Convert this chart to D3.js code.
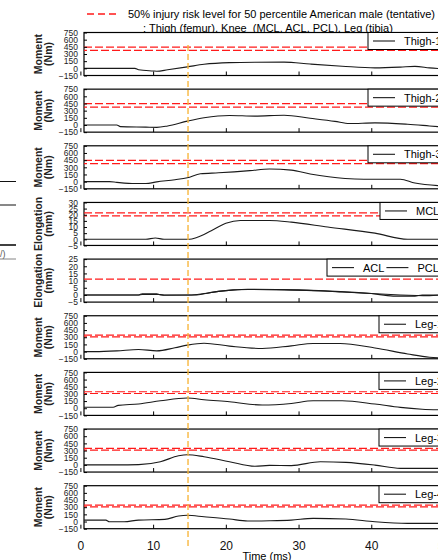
<!DOCTYPE html>
<html><head><meta charset="utf-8">
<script src="https://cdn.jsdelivr.net/npm/d3@7"></script>
<style>body{margin:0;background:#fff}svg{display:block;font-family:"Liberation Sans",Arial,sans-serif}</style>
</head><body><svg width="438" height="560"></svg>
<script>
// ticks
const timeTicks = [0, 10, 20, 30, 40, 50];
const momentTicks = [-150, 0, 150, 300, 450, 600, 750];
const mclTicks = [-5, 0, 5, 10, 15, 20, 25, 30];
const aclTicks = [-5, 0, 5, 10, 15, 20, 25];
const impactTime = 14.8;

// 50% injury risk levels
const thighRisk = [445, 375];
const mclRisk = [21.5, 19];
const aclRisk = [11];
const legRisk = [345, 308];

// series [time ms, value]
const thigh1 = [[0.5,0],[7.5,0],[8,-30],[10,-55],[10.5,-60],[12,-30],[14.7,30],[17,85],[20.5,120],[24,128],[28,130],[31.6,90],[36,45],[40.5,10],[44,25],[46,40],[48,10],[50.5,-20]];
const thigh2 = [[0.5,0],[5,0],[5.5,-35],[9,-45],[10.5,-50],[12,-20],[14.7,80],[17,150],[20.5,200],[24,185],[28,205],[31.6,140],[35,75],[37,30],[40.5,45],[45,15],[48,-20],[50.5,-50]];
const thigh3 = [[0.5,0],[4,0],[5,-15],[7.5,-40],[9,-40],[10.5,-5],[13,40],[14.7,80],[16.5,165],[19,185],[23.3,230],[26,265],[29,240],[31.6,160],[36.4,65],[39,50],[44,50],[46,-30],[50.5,-95]];
const mcl = [[0.5,0],[9,0],[10.3,1.1],[11.5,0],[15,0],[16,1.5],[18,7],[20,13],[22,15.3],[26,15.3],[29,14],[34,10],[40.5,5],[45,0],[50.5,0]];
const acl = [[0.5,0],[8,0],[8.5,0.8],[10.5,0.8],[11,0],[15,0],[17,1],[19,2.5],[21,3.5],[23,4],[30,3.5],[36,2],[42,0.5],[44,0],[48,-0.5],[50.5,0.5]];
const pcl = [[0.5,0],[8,0],[8.5,0.3],[11,0.3],[11.5,-0.2],[16,0],[18,1.8],[20,3],[23,3.8],[28,3.5],[35,2.5],[40,1],[43,-0.8],[46,-0.8],[47,0],[50.5,0]];
const leg1 = [[0.5,0],[2,0],[5,15],[8,45],[10.5,15],[13,80],[14.7,135],[17,175],[20.5,115],[25,65],[29,120],[32,170],[35.7,170],[40.5,75],[45,-50],[48,-120],[50.5,-140]];
const leg2 = [[0.5,20],[4.5,20],[5.2,60],[8,90],[11,155],[14.7,213],[17,178],[20.5,135],[25,67],[29,100],[32,157],[36,157],[40.5,88],[44,17],[47,-20],[50.5,-35]];
const leg3 = [[0.5,0],[5,0],[8,5],[11,67],[13.5,190],[14.7,213],[17,171],[20.5,67],[24,-30],[26,-10],[29,-15],[33,67],[36.5,52],[40.5,-5],[44,-73],[50.5,-73]];
const leg4 = [[0.5,30],[3.5,30],[4,-5],[6,-5],[8,30],[11.6,45],[13.5,115],[14.7,130],[17,100],[20.5,52],[23,10],[26,15],[29,30],[32,67],[36.5,52],[40.5,-5],[45,-38],[50.5,-38]];

const panels = [
  {label: ["Moment", "(Nm)"], ticks: momentTicks, risk: thighRisk, series: [["Thigh-1", thigh1]], legX: 368},
  {label: ["Moment", "(Nm)"], ticks: momentTicks, risk: thighRisk, series: [["Thigh-2", thigh2]], legX: 368},
  {label: ["Moment", "(Nm)"], ticks: momentTicks, risk: thighRisk, series: [["Thigh-3", thigh3]], legX: 368},
  {label: ["Elongation", "(mm)"], ticks: mclTicks, risk: mclRisk, series: [["MCL", mcl]], legX: 380},
  {label: ["Elongation", "(mm)"], ticks: aclTicks, risk: aclRisk, series: [["ACL", acl], ["PCL", pcl]], legX: 327},
  {label: ["Moment", "(Nm)"], ticks: momentTicks, risk: legRisk, series: [["Leg-1", leg1]], legX: 379},
  {label: ["Moment", "(Nm)"], ticks: momentTicks, risk: legRisk, series: [["Leg-2", leg2]], legX: 379},
  {label: ["Moment", "(Nm)"], ticks: momentTicks, risk: legRisk, series: [["Leg-3", leg3]], legX: 379},
  {label: ["Moment", "(Nm)"], ticks: momentTicks, risk: legRisk, series: [["Leg-4", leg4]], legX: 379}
];

const svg = d3.select("svg");
const left = 84, right = 452, top0 = 32.5, step = 56.65, ph = 43;
const x = d3.scaleLinear().domain([0, 50]).range([80.4, 444]);

// header legend
svg.append("line").attr("x1", 87).attr("x2", 119).attr("y1", 14).attr("y2", 14)
  .attr("stroke", "#ff1a1a").attr("stroke-width", 1.3).attr("stroke-dasharray", "7,4");
svg.append("text").attr("x", 128).attr("y", 18).attr("font-size", 11)
  .text("50% injury risk level for 50 percentile American male (tentative)");
svg.append("text").attr("x", 143).attr("y", 32).attr("font-size", 11)
  .text(": Thigh (femur), Knee  (MCL, ACL, PCL), Leg (tibia)").attr("xml:space", "preserve");

// fragments of the neighbouring figure at the left edge
[[181.5, 1], [205, 1], [245, 1.6], [259, 0.8]].forEach(([yy, w]) => {
  svg.append("line").attr("x1", 0).attr("x2", 16).attr("y1", yy).attr("y2", yy)
    .attr("stroke", w < 1 ? "#666" : "#111").attr("stroke-width", w);
});
svg.append("text").attr("x", 0).attr("y", 257).attr("font-size", 9).attr("fill", "#555").text("/)");

const line = d3.line().x(d => x(d[0])).curve(d3.curveMonotoneX);

panels.forEach((p, i) => {
  const top = top0 + i * step;
  const y = d3.scaleLinear().domain(d3.extent(p.ticks)).range([top + ph, top]);
  const g = svg.append("g");

  g.append("rect").attr("x", left).attr("y", top).attr("width", right - left).attr("height", ph)
    .attr("fill", "#fff").attr("stroke", "#000").attr("stroke-width", 1.2);

  // risk levels
  p.risk.forEach((r, k) => {
    g.append("line").attr("x1", left).attr("x2", right).attr("y1", y(r)).attr("y2", y(r))
      .attr("stroke", "#ff1a1a").attr("stroke-width", 1.2)
      .attr("stroke-dasharray", "8,3").attr("stroke-dashoffset", k * 5);
  });

  // data
  p.series.forEach(([name, data]) => {
    g.append("path").datum(data).attr("fill", "none").attr("stroke", "#1a1a1a").attr("stroke-width", 1.1)
      .attr("d", line.y(d => y(d[1])));
  });

  // y axis
  const ya = g.append("g").attr("transform", `translate(${left},0)`)
    .call(d3.axisLeft(y).tickValues(p.ticks).tickSize(-3).tickPadding(6));
  ya.select(".domain").remove();
  ya.selectAll("text").attr("font-size", 8.5).attr("font-family", "Liberation Sans, Arial").attr("fill", "#222");
  ya.selectAll("line").attr("stroke", "#000");

  // x axis
  const last = i === panels.length - 1;
  const xa = g.append("g").attr("transform", `translate(0,${top + ph})`)
    .call(d3.axisBottom(x).tickValues(timeTicks).tickSize(-4).tickPadding(13)
      .tickFormat(last ? d3.format("d") : () => ""));
  xa.select(".domain").remove();
  xa.selectAll("text").attr("font-size", 12).attr("font-family", "Liberation Sans, Arial").attr("fill", "#111");
  xa.selectAll("line").attr("stroke", "#000");

  // y label
  const cy = top + ph / 2;
  p.label.forEach((t, k) => {
    g.append("text").attr("transform", `translate(${42 + k * 10},${cy}) rotate(-90)`)
      .attr("text-anchor", "middle").attr("font-size", 10.5).attr("font-weight", "bold")
      .attr("fill", "#222").text(t);
  });

  // legend
  const lg = g.append("g");
  lg.append("rect").attr("x", p.legX).attr("y", top).attr("width", right - 2 - p.legX).attr("height", 17)
    .attr("fill", "#fff").attr("stroke", "#000").attr("stroke-width", 1);
  let cx = p.legX + 5;
  p.series.forEach(([name]) => {
    lg.append("line").attr("x1", cx).attr("x2", cx + 22).attr("y1", top + 8.5).attr("y2", top + 8.5)
      .attr("stroke", "#1a1a1a").attr("stroke-width", 1.1);
    const t = lg.append("text").attr("x", cx + 31).attr("y", top + 12.5).attr("font-size", 11).text(name);
    cx = cx + 31 + t.node().getComputedTextLength() + 2;
  });
});

// impact time marker
svg.append("line").attr("x1", x(impactTime)).attr("x2", x(impactTime)).attr("y1", 45).attr("y2", 548)
  .attr("stroke", "#f9b73a").attr("stroke-width", 1.6).attr("stroke-dasharray", "6,3").attr("opacity", 0.85);

svg.append("text").attr("x", 267).attr("y", 560).attr("text-anchor", "middle").attr("font-size", 11).text("Time (ms)");
</script></body></html>
